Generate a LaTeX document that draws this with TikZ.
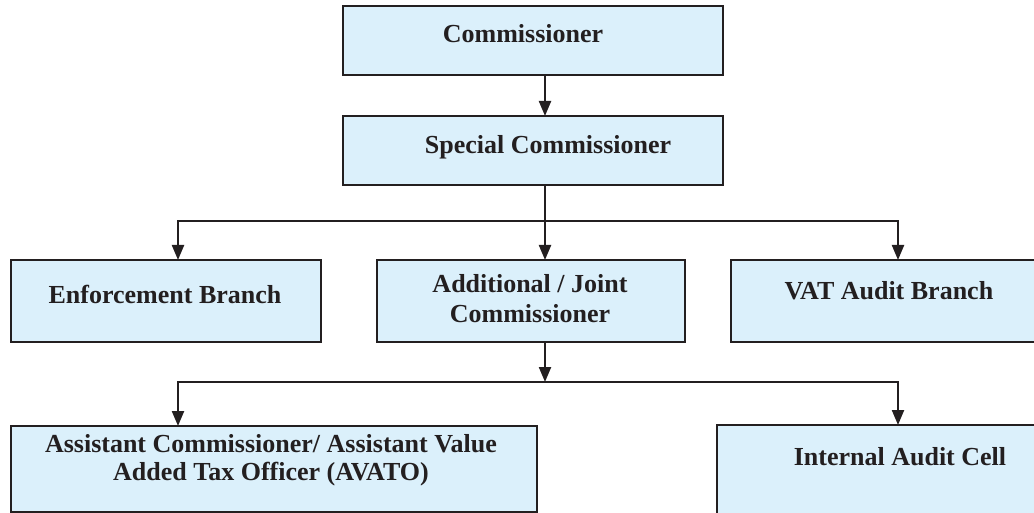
\documentclass[tikz,border=0pt]{standalone}
\usepackage{fontspec}
\setmainfont{Liberation Serif}
\usetikzlibrary{arrows.meta}
\definecolor{boxfill}{RGB}{219,240,251}
\definecolor{ink}{RGB}{35,31,32}
\tikzset{
  orgbox/.style={draw=ink, fill=boxfill, line width=2.6pt, anchor=north west, inner sep=0pt, outer sep=0pt},
  lbl/.style={text=ink, align=center, inner sep=0pt, font=\fontsize{26}{30}\selectfont\bfseries},
  conn/.style={draw=ink, line width=2.2pt},
  arr/.style={conn, -{Triangle[length=15pt,width=12pt]}},
}
\begin{document}
\begin{tikzpicture}[x=1pt,y=-1pt]
  \useasboundingbox (0,0) rectangle (1034,513);
  \clip (0,0) rectangle (1034,513);
  % boxes
  \node[orgbox, minimum width=380pt, minimum height=69pt] (comm) at (343,6) {};
  \node[orgbox, minimum width=380pt, minimum height=69pt] (spec) at (343,116) {};
  \node[orgbox, minimum width=310pt, minimum height=82pt] (enf) at (11,260) {};
  \node[orgbox, minimum width=308pt, minimum height=82pt] (add) at (377,260) {};
  \node[orgbox, minimum width=330pt, minimum height=82pt] (vat) at (731,260) {};
  \node[orgbox, minimum width=526pt, minimum height=86pt] (asst) at (11,426) {};
  \node[orgbox, minimum width=340pt, minimum height=110pt] (iac) at (717,425) {};
  % labels
  \node[lbl, anchor=base] (tcomm) at (523,43) {Commissioner};
  \node[lbl, anchor=base] (tspec) at (548,154) {Special Commissioner};
  \node[lbl, anchor=base] (tenf) at (165,303) {Enforcement Branch};
  \node[lbl] (tadd) at (530,299) {Additional / Joint\\Commissioner};
  \node[lbl, anchor=base] (tvat) at (889,300) {VAT Audit Branch};
  \node[lbl, font=\fontsize{26}{28}\selectfont\bfseries] (tasst) at (271,460) {Assistant Commissioner/ Assistant Value\\Added Tax Officer (AVATO)};
  \node[lbl, anchor=base] (tiac) at (900,465) {Internal Audit Cell};
  % connector guides
  \coordinate (xm) at (545,0);
  \coordinate (xl) at (178,0);
  \coordinate (xr) at (898,0);
  \coordinate (b1) at (545,221);
  \coordinate (b2) at (545,382);
  % connectors
  \draw[arr] (comm.south -| xm) -- (spec.north -| xm);
  \draw[arr] (spec.south -| xm) -- (add.north -| xm);
  \draw[arr] (b1) -- (b1 -| xl) -- (enf.north -| xl);
  \draw[arr] (b1) -- (b1 -| xr) -- (vat.north -| xr);
  \draw[arr] (add.south -| xm) -- (b2);
  \draw[arr] (b2) -- (b2 -| xl) -- (asst.north -| xl);
  \draw[arr] (b2) -- (b2 -| xr) -- (iac.north -| xr);
\end{tikzpicture}
\end{document}
